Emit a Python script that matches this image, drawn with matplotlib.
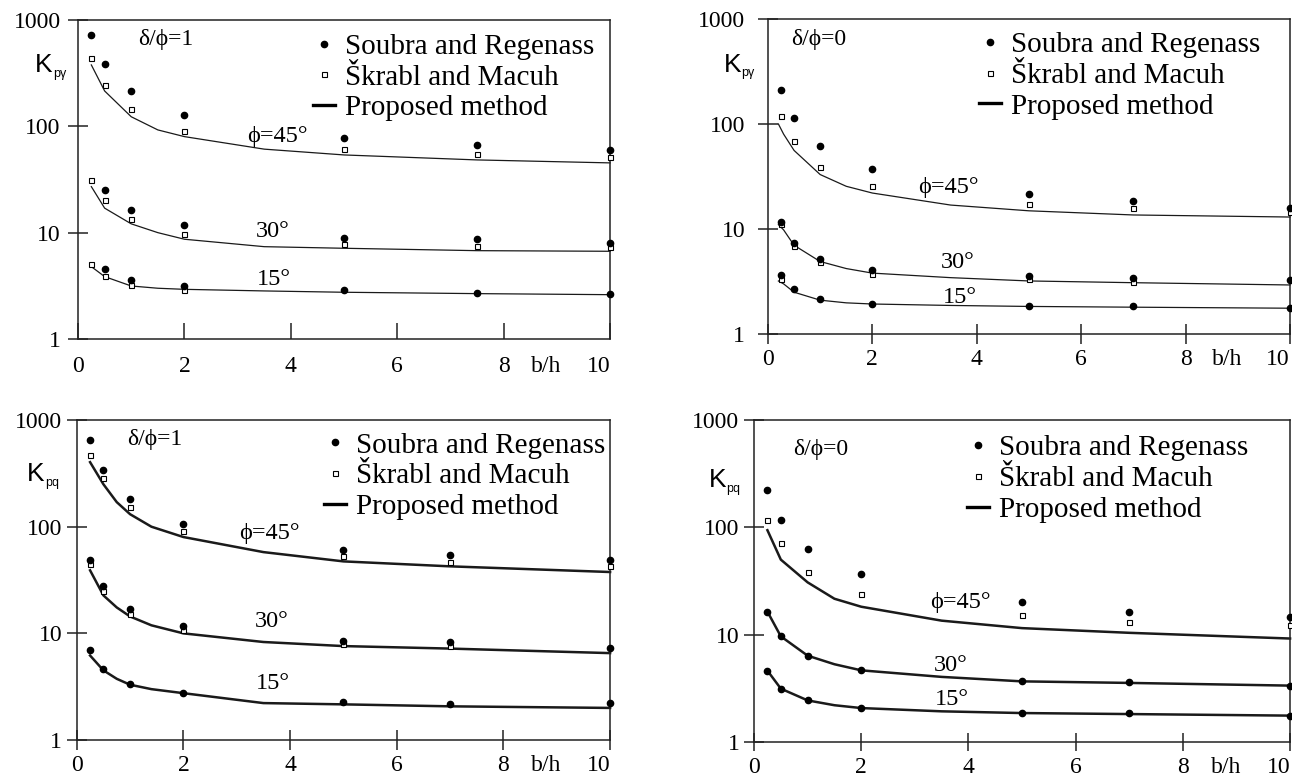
import numpy as np
import matplotlib.pyplot as plt
from matplotlib.lines import Line2D

plt.rcParams['font.family'] = ['Liberation Serif', 'DejaVu Serif']

nan = np.nan
# rows of every table below: phi = 45, 30, 15 degrees

# top left: delta/phi = 1, K_p_gamma
a_x = [0.25, 0.5, 1, 2, 5, 7.5, 10]
a_soubra = [[722, 382, 214, 129, 77, 67, 60],
            [nan, 25.2, 16.3, 11.7, 9.0, 8.7, 8.0],
            [nan, 4.6, 3.6, 3.15, 2.87, 2.69, 2.65]]
a_skrabl = [[438, 247, 144, 90, 61, 55, 52],
            [31, 20.2, 13.4, 9.7, 7.9, 7.5, 7.3],
            [5.08, 3.92, 3.22, 2.89, nan, nan, nan]]
a_line_x = [0.25, 0.5, 1, 1.5, 2, 3.5, 5, 7.5, 10]
a_line = [[378, 215, 123, 92.5, 80, 61, 53.8, 48.3, 45.3],
          [27.1, 17, 12.1, 10, 8.67, 7.38, 7.13, 6.77, 6.68],
          [4.79, 3.86, 3.15, 3.0, 2.93, 2.83, 2.75, 2.67, 2.61]]

# top right: delta/phi = 0, K_p_gamma
b_x = [0.25, 0.5, 1, 2, 5, 7, 10]
b_soubra = [[211, 114, 62, 37.3, 21.5, 18.6, 15.9],
            [11.7, 7.4, 5.2, 4.07, 3.57, 3.39, 3.27],
            [3.65, 2.68, 2.17, 1.94, 1.86, 1.86, 1.77]]
b_skrabl = [[119, 69, 39, 25.7, 17.4, 16.0, 14.6],
            [11.2, 6.9, 4.85, 3.73, 3.32, 3.15, nan],
            [3.33, nan, nan, nan, nan, nan, nan]]
b_line_x = [0.2, 0.3, 0.5, 1, 1.5, 2, 3.5, 5, 7, 10]
b_line = [[100, 80, 56, 33, 25.5, 22, 16.9, 14.9, 13.6, 13.0],
          [11, 9.8, 7.0, 4.9, 4.2, 3.8, 3.44, 3.2, 3.08, 2.93],
          [3.2, 3.0, 2.5, 2.1, 1.98, 1.93, 1.87, 1.83, 1.8, 1.76]]

# bottom left: delta/phi = 1, K_pq
c_x = [0.25, 0.5, 1, 2, 5, 7, 10]
c_soubra = [[644, 337, 183, 107, 60.4, 54.2, 49],
            [49, 27.6, 17, 11.6, 8.47, 8.3, 7.28],
            [6.93, 4.67, 3.38, 2.78, 2.27, 2.16, 2.24]]
c_skrabl = [[466, 286, 153, 91, 53.5, 46.6, 42.5],
            [45, 24.8, 15.3, 10.7, 8.0, 7.55, nan],
            [nan, nan, nan, nan, nan, nan, nan]]
c_line_x = [0.25, 0.5, 0.75, 1, 1.4, 2, 3.5, 5, 7, 10]
c_line = [[403, 250, 170, 131, 100, 80, 57.8, 47.3, 42.5, 37.6],
          [39, 22.7, 17.5, 14.4, 11.9, 10, 8.3, 7.6, 7.2, 6.53],
          [6.2, 4.5, 3.75, 3.3, 3.0, 2.75, 2.22, 2.16, 2.07, 2.0]]

# bottom right: delta/phi = 0, K_pq
d_x = [0.25, 0.5, 1, 2, 5, 7, 10]
d_soubra = [[221, 116, 63, 36.5, 20.2, 16.1, 14.5],
            [16.4, 9.64, 6.37, 4.65, 3.67, 3.62, 3.35],
            [4.62, 3.14, 2.44, 2.07, 1.86, 1.86, 1.76]]
d_skrabl = [[116, 71.6, 38.6, 24.1, 15.2, 13.0, 12.3],
            [nan] * 7,
            [nan] * 7]
d_line_x = [0.25, 0.5, 1, 1.5, 2, 3.5, 5, 7, 10]
d_line = [[94, 50, 30.7, 21.6, 18.2, 13.5, 11.5, 10.4, 9.2],
          [16.4, 9.64, 6.37, 5.3, 4.65, 4.04, 3.67, 3.55, 3.35],
          [4.62, 3.14, 2.44, 2.2, 2.07, 1.93, 1.86, 1.82, 1.76]]

phi_labels = ['\u03d5=45\u00b0', '30\u00b0', '15\u00b0']
x_ticks = [0, 2, 4, 6, 8, 10]
y_ticks = [1, 10, 100, 1000]
legend_labels = ['Soubra and Regenass', '\u0160krabl and Macuh', 'Proposed method']

panels = [
    dict(pos=[0.0604, 0.5643, 0.4118, 0.4100], x=a_x, soubra=a_soubra, skrabl=a_skrabl,
         lx=a_line_x, line=a_line, lw=0.9, delta='\u03b4/\u03d5=1', delta_pos=(0.113, 0.922),
         sub='p\u03b3', k_pos=(-0.081, 0.837), xdir='in', xlen=11.5, xpad=12, ypad=5,
         phi_pos=[(3.17, 71.8), (3.35, 9.05), (3.37, 3.22)], leg=(0.442, 0.958)),
    dict(pos=[0.5944, 0.5707, 0.4040, 0.4049], x=b_x, soubra=b_soubra, skrabl=b_skrabl,
         lx=b_line_x, line=b_line, lw=0.9, delta='\u03b4/\u03d5=0', delta_pos=(0.044, 0.917),
         sub='p\u03b3', k_pos=(-0.085, 0.833), xdir='inout', xlen=14, xpad=4, ypad=9,
         phi_pos=[(2.87, 21.9), (3.32, 4.23), (3.35, 1.96)], leg=(0.405, 0.960)),
    dict(pos=[0.0594, 0.0488, 0.4128, 0.4113], x=c_x, soubra=c_soubra, skrabl=c_skrabl,
         lx=c_line_x, line=c_line, lw=1.8, delta='\u03b4/\u03d5=1', delta_pos=(0.094, 0.922),
         sub='pq', k_pos=(-0.093, 0.81), xdir='inout', xlen=15, xpad=3, ypad=3,
         phi_pos=[(3.04, 77), (3.33, 11.5), (3.35, 3.03)], leg=(0.463, 0.962)),
    dict(pos=[0.5836, 0.0463, 0.4149, 0.4139], x=d_x, soubra=d_soubra, skrabl=d_skrabl,
         lx=d_line_x, line=d_line, lw=1.8, delta='\u03b4/\u03d5=0', delta_pos=(0.073, 0.891),
         sub='pq', k_pos=(-0.085, 0.791), xdir='inout', xlen=13, xpad=4, ypad=3,
         phi_pos=[(3.28, 17.7), (3.35, 4.55), (3.37, 2.23)], leg=(0.397, 0.954)),
]

fig = plt.figure(figsize=(12.92, 7.78), dpi=100)

for p in panels:
    ax = fig.add_axes(p['pos'])
    ax.set_yscale('log')
    ax.set_xlim(0, 10)
    ax.set_ylim(1, 1000)

    for s_row, k_row, l_row in zip(p['soubra'], p['skrabl'], p['line']):
        ax.plot(p['lx'], l_row, color='#1a1a1a', lw=p['lw'], zorder=2, clip_on=False)
        ax.plot(p['x'], k_row, ls='none', marker='s', ms=3.6, mfc='white', mec='k',
                mew=0.8, zorder=3, clip_on=False)
        ax.plot(p['x'], s_row, ls='none', marker='o', ms=4.5, color='k', zorder=4,
                clip_on=False)

    for txt, (tx, ty) in zip(phi_labels, p['phi_pos']):
        ax.text(tx, ty, txt, fontsize=17.5, ha='left', va='baseline')
    ax.text(*p['delta_pos'], p['delta'], transform=ax.transAxes, fontsize=17,
            ha='left', va='baseline')
    kx, ky = p['k_pos']
    ax.text(kx, ky, 'K', transform=ax.transAxes, fontsize=19, family='Liberation Sans',
            ha='left', va='baseline')
    ax.annotate(p['sub'], xy=(kx, ky), xycoords='axes fraction', xytext=(12.8, -3.5),
                textcoords='offset points', fontsize=9, family='Liberation Sans',
                ha='left', va='baseline')

    # axes and ticks
    for sp in ax.spines.values():
        sp.set_linewidth(1.1)
        sp.set_color('#222222')
    ax.set_xticks(x_ticks)
    xlabels = ax.set_xticklabels([str(v) for v in x_ticks])
    xlabels[-1].set_horizontalalignment('right')
    ax.set_yticks(y_ticks)
    ax.set_yticklabels([str(v) for v in y_ticks])
    ax.yaxis.set_minor_locator(plt.NullLocator())
    ax.set_xticks([8.8], minor=True)
    ax.set_xticklabels(['b/h'], minor=True)
    ax.tick_params(axis='y', which='major', direction='inout', length=15, width=1.1,
                   pad=p['ypad'], labelsize=17, color='#222222')
    ax.tick_params(axis='x', which='major', direction=p['xdir'], length=p['xlen'], width=1.1,
                   pad=p['xpad'], labelsize=17, color='#222222')
    minor_pad = p['xpad'] + (p['xlen'] / 2 if p['xdir'] == 'inout' else 0)
    ax.tick_params(axis='x', which='minor', length=0, pad=minor_pad, labelsize=17)

    handles = [Line2D([], [], ls='none', marker='o', ms=4.5, color='k'),
               Line2D([], [], ls='none', marker='s', ms=3.6, mfc='white', mec='k', mew=0.8),
               Line2D([], [], color='k', lw=2.4)]
    ax.legend(handles, legend_labels, loc='upper left', bbox_to_anchor=p['leg'],
              frameon=False, fontsize=21, handlelength=0.75, handletextpad=0.35,
              labelspacing=0.15, borderpad=0, borderaxespad=0)

fig.savefig('out.png', dpi=100)
